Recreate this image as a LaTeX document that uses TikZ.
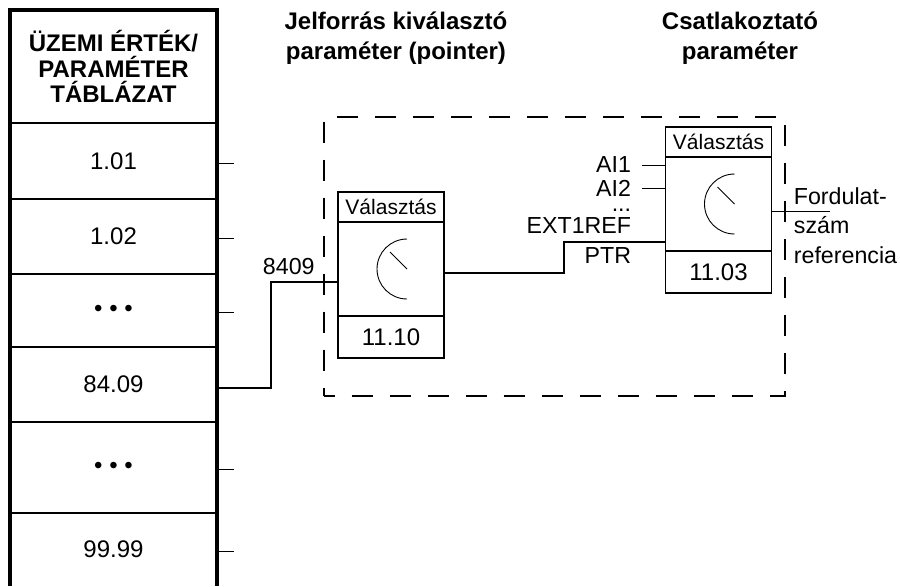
\documentclass[tikz,border=0pt]{standalone}
\usepackage{fontspec}
\setmainfont{Liberation Sans}
\usetikzlibrary{positioning,calc}
\tikzset{
  tcell/.style={minimum width=103.5pt, inner sep=0pt, outer sep=0pt, font=\fontsize{12pt}{13pt}\selectfont},
  rowline/.style={line width=0.8pt},
  frm/.style={line width=1.6pt},
  tk/.style={line width=0.5pt},
  sh/.style={draw, line width=0.6pt, minimum width=53pt, minimum height=15pt, inner sep=0pt, outer sep=0pt, font=\fontsize{10.5pt}{12pt}\selectfont},
  sb/.style={sh, minimum height=47pt},
  sn/.style={sh, minimum height=21pt, font=\fontsize{12pt}{13pt}\selectfont},
  dl/.style={line width=0.45pt},
  wr/.style={line width=1.3pt},
  lbl/.style={inner sep=0pt, font=\fontsize{11.6pt}{13pt}\selectfont},
  ttl/.style={align=center, inner sep=0pt, font=\fontsize{12pt}{14.75pt}\selectfont\bfseries},
  grp/.style={draw, line width=0.75pt, dash pattern=on 10.5pt off 8.5pt, dash phase=5.25pt, minimum width=230.5pt, minimum height=139.5pt},
}
\begin{document}
\begin{tikzpicture}[x=0.5pt, y=-0.5pt]
\useasboundingbox (0,0) rectangle (900,586);
\node[tcell, minimum height=56.5pt, align=center, font=\fontsize{12pt}{12.75pt}\selectfont\bfseries] (hdr) at (113.5,66.5) {ÜZEMI ÉRTÉK/\\PARAMÉTER\\TÁBLÁZAT};
\node[tcell, minimum height=38pt, below=0pt of hdr] (r1) {1.01};
\node[tcell, minimum height=37.5pt, below=0pt of r1] (r2) {1.02};
\node[tcell, minimum height=36.5pt, below=0pt of r2] (r3) {• • •};
\node[tcell, minimum height=37.5pt, below=0pt of r3] (r4) {84.09};
\node[tcell, minimum height=45.5pt, below=0pt of r4] (r5) {• • •};
\node[tcell, minimum height=36.5pt, below=0pt of r5] (r6) {99.99};
\draw[rowline] (hdr.south west) -- (hdr.south east);
\draw[rowline] (r1.south west) -- (r1.south east);
\draw[rowline] (r2.south west) -- (r2.south east);
\draw[rowline] (r3.south west) -- (r3.south east);
\draw[rowline] (r4.south west) -- (r4.south east);
\draw[rowline] (r5.south west) -- (r5.south east);
\draw[frm] (r6.south west) -- (hdr.north west) -- (hdr.north east) -- (r6.south east);
\draw[tk] ([yshift=-1pt]r1.east) -- ++(8.5pt,0);
\draw[tk] ([yshift=-1pt]r2.east) -- ++(8.5pt,0);
\draw[tk] ([yshift=-1pt]r3.east) -- ++(8.5pt,0);
\draw[tk] ([yshift=-1pt]r5.east) -- ++(8.5pt,0);
\draw[tk] ([yshift=-1pt]r6.east) -- ++(8.5pt,0);
\node[ttl] (t1) at (396,38) {Jelforrás kiválasztó\\paraméter (pointer)};
\node[ttl] (t2) at (740,38) {Csatlakoztató\\paraméter};
\node[grp] (grp) at (554.5,256.5) {};
\node[sh] (h1) at (391,207) {Választás};
\node[sb, below=0pt of h1] (b1) {};
\node[sn, below=0pt of b1] (n1) {11.10};
\draw[dl] ([xshift=8pt]b1.center) ++(0,15pt) arc[start angle=90, end angle=270, radius=15pt];
\draw[dl] ([xshift=8pt]b1.center) -- ++(135:12pt);
\node[sh] (h2) at (718.5,142) {Választás};
\node[sb, below=0pt of h2] (b2) {};
\node[sn, below=0pt of b2] (n2) {11.03};
\draw[dl] ([xshift=8pt]b2.center) ++(0,15pt) arc[start angle=90, end angle=270, radius=15pt];
\draw[dl] ([xshift=8pt]b2.center) -- ++(135:12pt);
\coordinate (in1) at ([yshift=-6.5pt]b1.west);
\coordinate (in2) at ([yshift=-19pt]b2.west);
\draw[wr] ([yshift=-1.75pt]r4.east) -- ++(27pt,0) |- (in1);
\node[lbl, anchor=base east] (l8409) at ([shift={(-11.5pt,4pt)}]in1) {8409};
\draw[wr] ([yshift=-2pt]b1.east) -- ++(60pt,0) |- (in2);
\draw[tk] ([yshift=19.5pt]b2.west) -- ++(-12pt,0) node[lbl, anchor=east, xshift=-5pt] (ai1) {AI1};
\draw[tk] ([yshift=8pt]b2.west) -- ++(-12pt,0) node[lbl, anchor=east, xshift=-5pt] (ai2) {AI2};
\node[lbl, anchor=base east] (dts) at ([shift={(-17pt,15.5pt)}]in2) {...};
\node[lbl, anchor=base east] (ext) at ([shift={(-17pt,4.5pt)}]in2) {EXT1REF};
\node[lbl, anchor=base east] (ptr) at ([shift={(-17pt,-10.5pt)}]in2) {PTR};
\draw[tk] ([yshift=-3.75pt]b2.east) -- ++(29pt,0) coordinate (out2);
\node[lbl, align=left, anchor=west, font=\fontsize{11.6pt}{14.75pt}\selectfont] (ref) at ([shift={(11pt,-10.75pt)}]b2.east) {Fordulat-\\szám\\referencia};
\end{tikzpicture}
\end{document}
